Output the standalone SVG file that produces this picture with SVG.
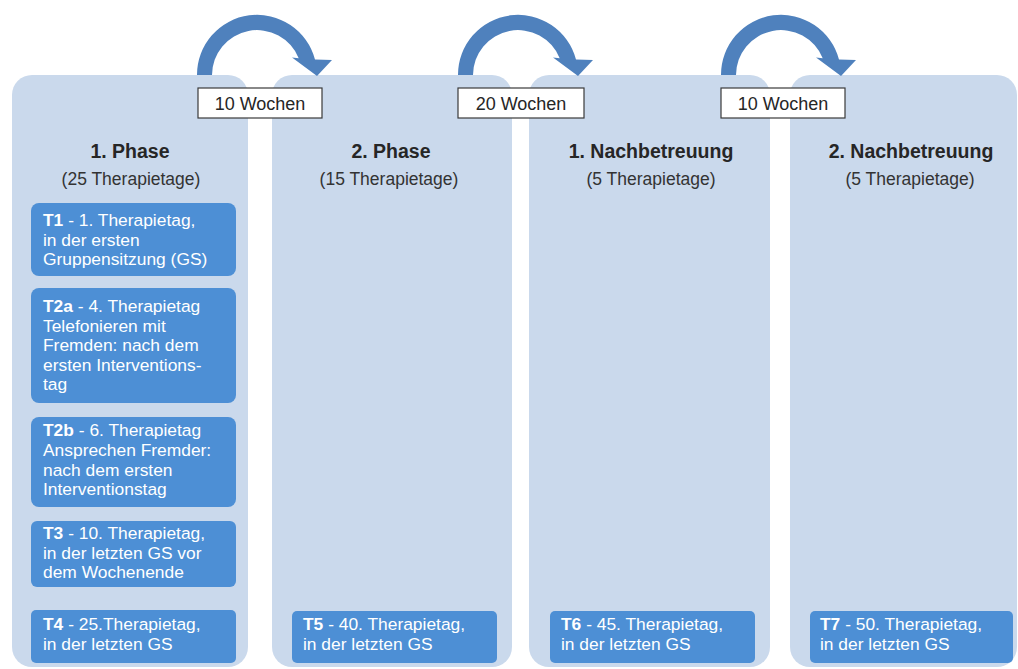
<svg xmlns="http://www.w3.org/2000/svg" width="1018" height="669" viewBox="0 0 1018 669">
<style>
.col{fill:#cad9ec}
.box{fill:#4d8fd5}
.arrow{fill:#4f81bd}
.lbl{fill:#fff;stroke:#3a3a3a;stroke-width:1.2}
text{font-family:"Liberation Sans",Arial,sans-serif}
.h{font-size:19.5px;font-weight:bold;fill:#262626;text-anchor:middle}
.s{font-size:17.5px;fill:#333;text-anchor:middle}
.t{font-size:17.4px;fill:#fff}
.b{font-weight:bold}
.w{font-size:18px;fill:#262626;text-anchor:middle}
</style>
<rect width="1018" height="669" fill="#fff"/>
<g id="phase1">
<rect class="col" x="12" y="75" width="236" height="592" rx="20"/>
<text class="h" x="130" y="158">1. Phase</text>
<text class="s" x="131" y="185">(25 Therapietage)</text>
<g id="t1"><rect class="box" x="31" y="203" width="205" height="73" rx="8"/>
<text class="t" x="43" y="226"><tspan class="b">T1</tspan> - 1. Therapietag,<tspan x="43" dy="19.6">in der ersten</tspan><tspan x="43" dy="19.6">Gruppensitzung (GS)</tspan></text></g>
<g id="t2a"><rect class="box" x="31" y="288" width="205" height="115" rx="8"/>
<text class="t" x="43" y="312"><tspan class="b">T2a</tspan> - 4. Therapietag<tspan x="43" dy="19.6">Telefonieren mit</tspan><tspan x="43" dy="19.6">Fremden: nach dem</tspan><tspan x="43" dy="19.6">ersten Interventions-</tspan><tspan x="43" dy="19.6">tag</tspan></text></g>
<g id="t2b"><rect class="box" x="31" y="417" width="205" height="90" rx="8"/>
<text class="t" x="43" y="436"><tspan class="b">T2b</tspan> - 6. Therapietag<tspan x="43" dy="19.8">Ansprechen Fremder:</tspan><tspan x="43" dy="19.8">nach dem ersten</tspan><tspan x="43" dy="19.8">Interventionstag</tspan></text></g>
<g id="t3"><rect class="box" x="31" y="521" width="205" height="66" rx="6"/>
<text class="t" x="43" y="539"><tspan class="b">T3</tspan> - 10. Therapietag,<tspan x="43" dy="19.6">in der letzten GS vor</tspan><tspan x="43" dy="19.6">dem Wochenende</tspan></text></g>
<g id="t4"><rect class="box" x="31" y="610" width="205" height="53" rx="5"/>
<text class="t" x="43" y="630"><tspan class="b">T4</tspan> - 25.Therapietag,<tspan x="43" dy="20">in der letzten GS</tspan></text></g>
</g>
<g id="phase2">
<rect class="col" x="272" y="75" width="240" height="592" rx="20"/>
<text class="h" x="391" y="158">2. Phase</text>
<text class="s" x="389" y="185">(15 Therapietage)</text>
<g id="t5"><rect class="box" x="292" y="611" width="205" height="52" rx="5"/>
<text class="t" x="303" y="630"><tspan class="b">T5</tspan> - 40. Therapietag,<tspan x="303" dy="20">in der letzten GS</tspan></text></g>
</g>
<g id="nach1">
<rect class="col" x="529" y="75" width="241" height="592" rx="20"/>
<text class="h" x="651" y="158">1. Nachbetreuung</text>
<text class="s" x="651" y="185">(5 Therapietage)</text>
<g id="t6"><rect class="box" x="550" y="611" width="205" height="52" rx="5"/>
<text class="t" x="561" y="630"><tspan class="b">T6</tspan> - 45. Therapietag,<tspan x="561" dy="20">in der letzten GS</tspan></text></g>
</g>
<g id="nach2">
<rect class="col" x="790" y="75" width="227" height="592" rx="20"/>
<text class="h" x="911" y="158">2. Nachbetreuung</text>
<text class="s" x="910" y="185">(5 Therapietage)</text>
<g id="t7"><rect class="box" x="810" y="611" width="203" height="52" rx="5"/>
<text class="t" x="820" y="630"><tspan class="b">T7</tspan> - 50. Therapietag,<tspan x="820" dy="20">in der letzten GS</tspan></text></g>
</g>
<g id="connectors">
<path class="arrow" d="M197,75 A60,60 0 0 1 315,59.5 L332,60 L317,76 L292,57.5 L298.7,58.2 A45,45 0 0 0 212,75 Z"/>
<path class="arrow" d="M458,75 A60,60 0 0 1 576,59.5 L593,60 L578,76 L553,57.5 L559.7,58.2 A45,45 0 0 0 473,75 Z"/>
<path class="arrow" d="M721,75 A60,60 0 0 1 839,59.5 L856,60 L841,76 L816,57.5 L822.7,58.2 A45,45 0 0 0 736,75 Z"/>
<rect class="lbl" x="198" y="88" width="124" height="30"/>
<text class="w" x="260" y="109.5">10 Wochen</text>
<rect class="lbl" x="458" y="88" width="126" height="30"/>
<text class="w" x="521" y="109.5">20 Wochen</text>
<rect class="lbl" x="721" y="88" width="124" height="30"/>
<text class="w" x="783" y="109.5">10 Wochen</text>
</g>
</svg>
